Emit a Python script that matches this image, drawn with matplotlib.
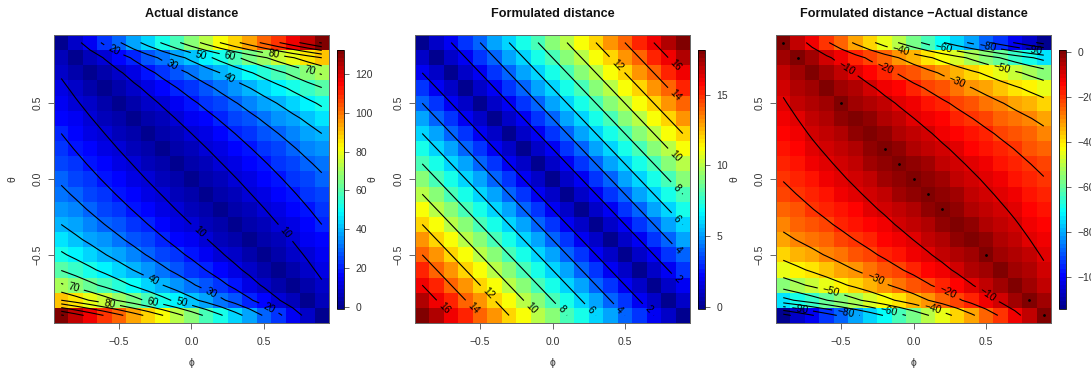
import numpy as np
import matplotlib
matplotlib.use("Agg")
import matplotlib.pyplot as plt
from matplotlib.colors import LinearSegmentedColormap, Normalize

plt.rcParams['font.family'] = ['Liberation Sans', 'DejaVu Sans']

phi = [-0.9, -0.8, -0.7, -0.6, -0.5, -0.4, -0.3, -0.2, -0.1, 0.0, 0.1, 0.2, 0.3, 0.4, 0.5, 0.6, 0.7, 0.8, 0.9]
theta = [-0.9, -0.8, -0.7, -0.6, -0.5, -0.4, -0.3, -0.2, -0.1, 0.0, 0.1, 0.2, 0.3, 0.4, 0.5, 0.6, 0.7, 0.8, 0.9]

# rows go from theta=-0.9 up to theta=0.9
actual = np.array([
    [131.3, 124, 116.7, 109.4, 102.1, 94.8, 87.6, 80.3, 73, 65.7, 58.4, 51.1, 43.8, 36.5, 29.2, 21.9, 14.6, 7.3, 0],
    [90.1, 84.8, 79.5, 74.2, 68.9, 63.6, 58.3, 53, 47.7, 42.4, 37.1, 31.8, 26.5, 21.2, 15.9, 10.6, 5.3, 0, 5.3],
    [71.3, 66.8, 62.3, 57.9, 53.4, 49, 44.5, 40.1, 35.6, 31.2, 26.7, 22.3, 17.8, 13.4, 8.9, 4.5, 0, 4.5, 8.9],
    [59.6, 55.7, 51.7, 47.7, 43.7, 39.8, 35.8, 31.8, 27.8, 23.9, 19.9, 15.9, 11.9, 8, 4, 0, 4, 8, 11.9],
    [51.4, 47.7, 44.1, 40.4, 36.7, 33, 29.4, 25.7, 22, 18.4, 14.7, 11, 7.3, 3.7, 0, 3.7, 7.3, 11, 14.7],
    [45.1, 41.6, 38.2, 34.7, 31.2, 27.8, 24.3, 20.8, 17.4, 13.9, 10.4, 6.9, 3.5, 0, 3.5, 6.9, 10.4, 13.9, 17.4],
    [40, 36.7, 33.3, 30, 26.7, 23.3, 20, 16.7, 13.3, 10, 6.7, 3.3, 0, 3.3, 6.7, 10, 13.3, 16.7, 20],
    [35.7, 32.5, 29.2, 26, 22.7, 19.5, 16.2, 13, 9.7, 6.5, 3.2, 0, 3.2, 6.5, 9.7, 13, 16.2, 19.5, 22.7],
    [32, 28.8, 25.6, 22.4, 19.2, 16, 12.8, 9.6, 6.4, 3.2, 0, 3.2, 6.4, 9.6, 12.8, 16, 19.2, 22.4, 25.6],
    [28.6, 25.4, 22.3, 19.1, 15.9, 12.7, 9.5, 6.4, 3.2, 0, 3.2, 6.4, 9.5, 12.7, 15.9, 19.1, 22.3, 25.4, 28.6],
    [25.6, 22.4, 19.2, 16, 12.8, 9.6, 6.4, 3.2, 0, 3.2, 6.4, 9.6, 12.8, 16, 19.2, 22.4, 25.6, 28.8, 32],
    [22.7, 19.5, 16.2, 13, 9.7, 6.5, 3.2, 0, 3.2, 6.5, 9.7, 13, 16.2, 19.5, 22.7, 26, 29.2, 32.5, 35.7],
    [20, 16.7, 13.3, 10, 6.7, 3.3, 0, 3.3, 6.7, 10, 13.3, 16.7, 20, 23.3, 26.7, 30, 33.3, 36.7, 40],
    [17.4, 13.9, 10.4, 6.9, 3.5, 0, 3.5, 6.9, 10.4, 13.9, 17.4, 20.8, 24.3, 27.8, 31.2, 34.7, 38.2, 41.6, 45.1],
    [14.7, 11, 7.3, 3.7, 0, 3.7, 7.3, 11, 14.7, 18.4, 22, 25.7, 29.4, 33, 36.7, 40.4, 44.1, 47.7, 51.4],
    [11.9, 8, 4, 0, 4, 8, 11.9, 15.9, 19.9, 23.9, 27.8, 31.8, 35.8, 39.8, 43.7, 47.7, 51.7, 55.7, 59.6],
    [8.9, 4.5, 0, 4.5, 8.9, 13.4, 17.8, 22.3, 26.7, 31.2, 35.6, 40.1, 44.5, 49, 53.4, 57.9, 62.3, 66.8, 71.3],
    [5.3, 0, 5.3, 10.6, 15.9, 21.2, 26.5, 31.8, 37.1, 42.4, 47.7, 53, 58.3, 63.6, 68.9, 74.2, 79.5, 84.8, 90.1],
    [0, 7.3, 14.6, 21.9, 29.2, 36.5, 43.8, 51.1, 58.4, 65.7, 73, 80.3, 87.6, 94.8, 102.1, 109.4, 116.7, 124, 131.3],
])

formulated = np.array([
    [18, 17, 16, 15, 14, 13, 12, 11, 10, 9, 8, 7, 6, 5, 4, 3, 2, 1, 0],
    [17, 16, 15, 14, 13, 12, 11, 10, 9, 8, 7, 6, 5, 4, 3, 2, 1, 0, 1],
    [16, 15, 14, 13, 12, 11, 10, 9, 8, 7, 6, 5, 4, 3, 2, 1, 0, 1, 2],
    [15, 14, 13, 12, 11, 10, 9, 8, 7, 6, 5, 4, 3, 2, 1, 0, 1, 2, 3],
    [14, 13, 12, 11, 10, 9, 8, 7, 6, 5, 4, 3, 2, 1, 0, 1, 2, 3, 4],
    [13, 12, 11, 10, 9, 8, 7, 6, 5, 4, 3, 2, 1, 0, 1, 2, 3, 4, 5],
    [12, 11, 10, 9, 8, 7, 6, 5, 4, 3, 2, 1, 0, 1, 2, 3, 4, 5, 6],
    [11, 10, 9, 8, 7, 6, 5, 4, 3, 2, 1, 0, 1, 2, 3, 4, 5, 6, 7],
    [10, 9, 8, 7, 6, 5, 4, 3, 2, 1, 0, 1, 2, 3, 4, 5, 6, 7, 8],
    [9, 8, 7, 6, 5, 4, 3, 2, 1, 0, 1, 2, 3, 4, 5, 6, 7, 8, 9],
    [8, 7, 6, 5, 4, 3, 2, 1, 0, 1, 2, 3, 4, 5, 6, 7, 8, 9, 10],
    [7, 6, 5, 4, 3, 2, 1, 0, 1, 2, 3, 4, 5, 6, 7, 8, 9, 10, 11],
    [6, 5, 4, 3, 2, 1, 0, 1, 2, 3, 4, 5, 6, 7, 8, 9, 10, 11, 12],
    [5, 4, 3, 2, 1, 0, 1, 2, 3, 4, 5, 6, 7, 8, 9, 10, 11, 12, 13],
    [4, 3, 2, 1, 0, 1, 2, 3, 4, 5, 6, 7, 8, 9, 10, 11, 12, 13, 14],
    [3, 2, 1, 0, 1, 2, 3, 4, 5, 6, 7, 8, 9, 10, 11, 12, 13, 14, 15],
    [2, 1, 0, 1, 2, 3, 4, 5, 6, 7, 8, 9, 10, 11, 12, 13, 14, 15, 16],
    [1, 0, 1, 2, 3, 4, 5, 6, 7, 8, 9, 10, 11, 12, 13, 14, 15, 16, 17],
    [0, 1, 2, 3, 4, 5, 6, 7, 8, 9, 10, 11, 12, 13, 14, 15, 16, 17, 18],
])

difference = formulated - actual

titles = ['Actual distance', 'Formulated distance', 'Formulated distance \u2212Actual distance']
# contour levels: the first list gets labels, the second is left bare
labeled_actual = [10, 20, 30, 40, 50, 60, 70, 80]
bare_actual = [90, 100, 110, 120, 130]
labeled_formulated = [2, 4, 6, 8, 10, 12, 14, 16]
bare_formulated = []
labeled_difference = [-90, -80, -60, -50, -40, -30, -20, -10]
bare_difference = [-110, -100, -70]
cbar_ticks_actual = [0, 20, 40, 60, 80, 100, 120]
cbar_ticks_formulated = [0, 5, 10, 15]
cbar_ticks_difference = [0, -20, -40, -60, -80, -100]

# small dots the zero contour leaves on the third panel
dot_phi = [-0.9, -0.8, -0.5, -0.2, -0.1, 0.0, 0.1, 0.2, 0.5, 0.8, 0.9]
dot_theta = [0.9, 0.8, 0.5, 0.2, 0.1, 0.0, -0.1, -0.2, -0.5, -0.8, -0.9]

# where the contour labels sit
labels_actual = [(-0.54, 0.846), (-0.137, 0.748), (0.262, 0.664), (0.066, 0.813), (0.266, 0.807),
                 (0.814, 0.713), (0.566, 0.818), (0.047, -0.354), (0.646, -0.358), (-0.268, -0.673),
                 (0.133, -0.754), (0.531, -0.857), (-0.068, -0.818), (-0.268, -0.813),
                 (-0.817, -0.721), (-0.568, -0.824)]
labels_formulated = [(0.847, 0.746), (0.847, 0.548), (0.439, 0.748), (0.847, 0.147), (0.854, -0.061),
                     (0.858, -0.264), (0.863, -0.468), (0.858, -0.666), (0.658, -0.864), (0.46, -0.864),
                     (0.26, -0.864), (0.057, -0.864), (-0.15, -0.857), (-0.45, -0.76), (-0.554, -0.857),
                     (-0.754, -0.857)]
labels_difference = [(-0.466, 0.73), (-0.197, 0.73), (0.299, 0.635), (-0.088, 0.844), (0.61, 0.726),
                     (0.206, 0.862), (0.51, 0.869), (0.828, 0.846), (0.506, -0.765), (0.23, -0.754),
                     (-0.266, -0.661), (0.13, -0.864), (-0.57, -0.743), (-0.169, -0.875),
                     (-0.468, -0.882), (-0.789, -0.859)]

W, H = 1091, 372
GREY = '#666666'
TEXT = '#333333'

tim = LinearSegmentedColormap.from_list('tim', [
    (0.0, '#00008F'), (0.125, '#0000FF'), (0.375, '#00FFFF'),
    (0.625, '#FFFF00'), (0.875, '#FF0000'), (1.0, '#800000')], N=64)


def fmt_label(v):
    return f'\u2212{abs(v):.0f}' if v < 0 else f'{v:.0f}'


def draw_panel(fig, left, z, title, labeled, bare, label_pos, cbar_ticks):
    ax = fig.add_axes([left / W, 1 - 323 / H, 275 / W, 288 / H])
    half = (z.max() - z.min()) / 63 / 2
    norm = Normalize(z.min() - half, z.max() + half)
    mesh = ax.pcolormesh(phi, theta, z, cmap=tim, norm=norm, shading='nearest')
    cs = ax.contour(phi, theta, z, levels=labeled, colors='black', linewidths=0.8, linestyles='solid')
    ax.clabel(cs, fmt=fmt_label, fontsize=7.5, manual=label_pos, inline=True, inline_spacing=5)
    if bare:
        ax.contour(phi, theta, z, levels=bare, colors='black', linewidths=0.8, linestyles='solid')
    ax.set_xlim(-0.95, 0.95)
    ax.set_ylim(-0.95, 0.95)
    ax.set_xticks([-0.5, 0.0, 0.5])
    ax.set_yticks([-0.5, 0.0, 0.5])
    ax.set_xticklabels(['\u22120.5', '0.0', '0.5'])
    ax.set_yticklabels(['\u22120.5', '0.0', '0.5'], rotation=90, va='center')
    ax.tick_params(length=4.5, width=0.7, color=GREY, labelcolor=TEXT, labelsize=7.5)
    ax.tick_params(axis='x', pad=5.5)
    ax.tick_params(axis='y', pad=3.5)
    for s in ax.spines.values():
        s.set_color(GREY)
        s.set_linewidth(0.7)
    ax.set_title(title, fontsize=9.05, fontweight='bold', color='#111111', y=1, pad=13)
    fig.text((left + 137.5) / W, 1 - 363 / H, '\u03d5', fontsize=7.5, color=TEXT, ha='center', va='center')
    fig.text((left - 42) / W, 1 - 179 / H, '\u03b8', fontsize=7.5, color=TEXT, rotation=90, ha='center', va='center')

    cax = fig.add_axes([(left + 283) / W, 1 - 309 / H, 7 / W, 259 / H])
    cbar = fig.colorbar(mesh, cax=cax)
    cbar.set_ticks(cbar_ticks)
    cbar.set_ticklabels([fmt_label(t) for t in cbar_ticks])
    cbar.ax.tick_params(length=3.8, width=0.7, color=GREY, labelcolor=TEXT, labelsize=7.5, pad=4.5)
    cbar.outline.set_edgecolor('black')
    cbar.outline.set_linewidth(0.6)
    return ax


fig = plt.figure(figsize=(W / 100, H / 100), dpi=100)

draw_panel(fig, 54, actual, titles[0], labeled_actual, bare_actual, labels_actual, cbar_ticks_actual)
draw_panel(fig, 415, formulated, titles[1], labeled_formulated, bare_formulated, labels_formulated,
           cbar_ticks_formulated)
ax3 = draw_panel(fig, 776, difference, titles[2], labeled_difference, bare_difference, labels_difference,
                 cbar_ticks_difference)
ax3.plot(dot_phi, dot_theta, linestyle='none', marker='o', markersize=1.0, color='black')

fig.savefig('out.png', dpi=100)
